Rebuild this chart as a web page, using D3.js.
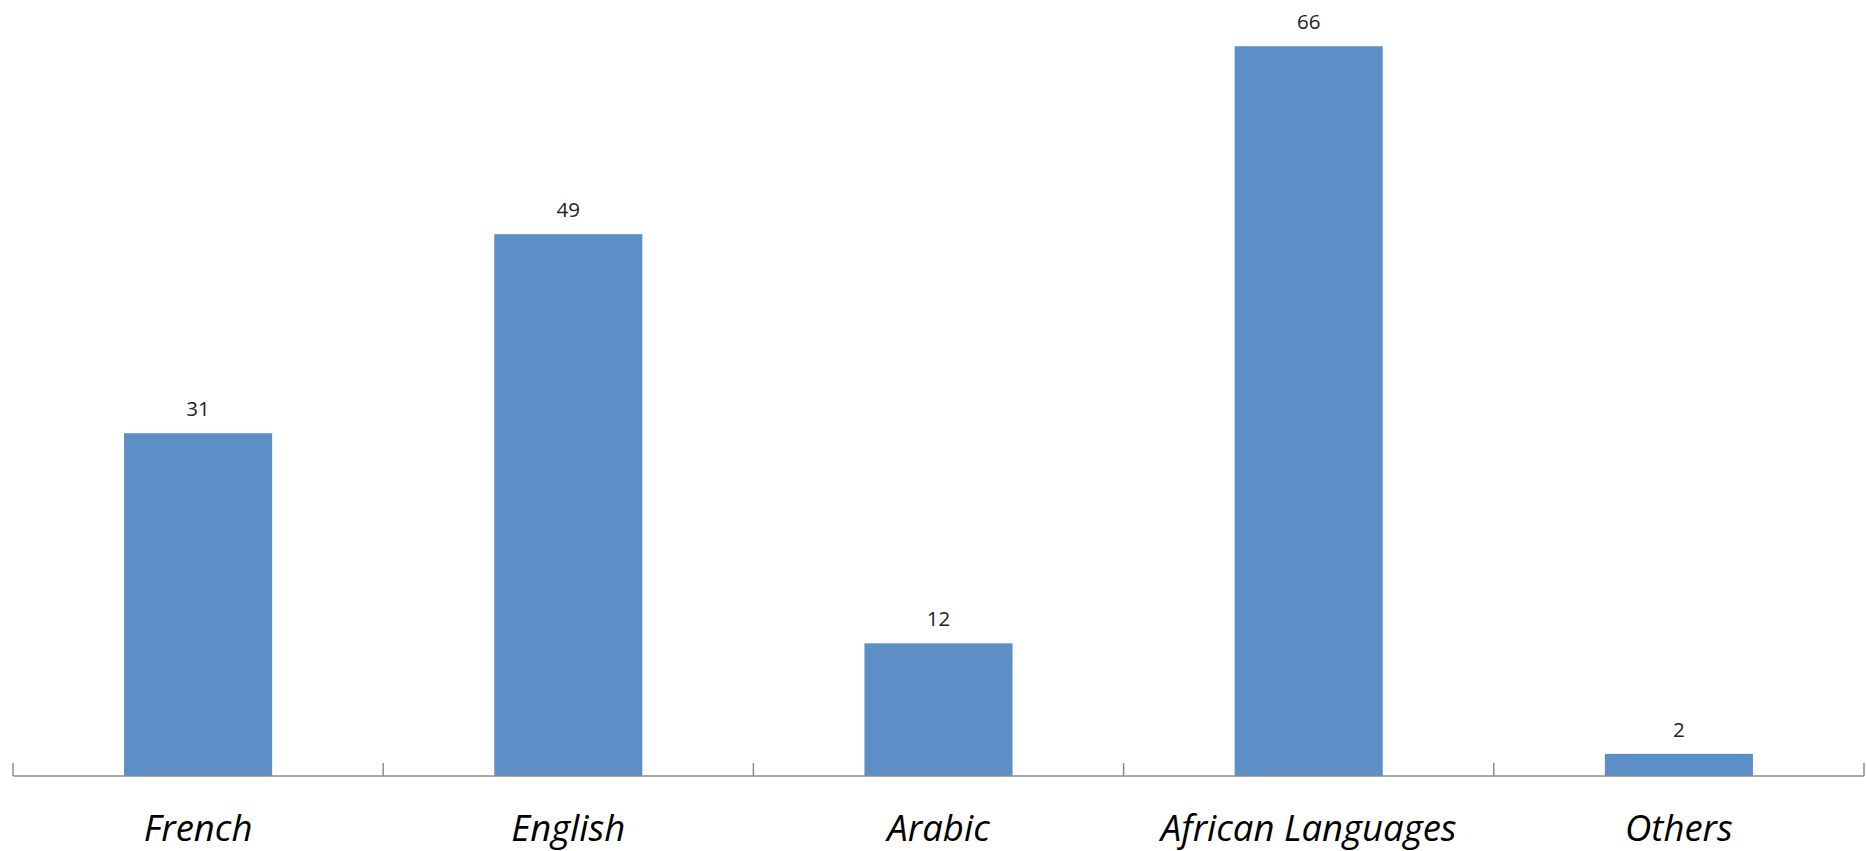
<!DOCTYPE html>
<html><head><meta charset="utf-8">
<script src="https://cdn.jsdelivr.net/npm/d3@7"></script>
<style>html,body{margin:0;padding:0;background:#fff;}</style>
</head><body>
<svg id="chart" width="1866" height="851"></svg>
<script>
const categories = ["French", "English", "Arabic", "African Languages", "Others"];
const values = [31, 49, 12, 66, 2];

const svg = d3.select("#chart");
const x = d3.scaleBand().domain(categories).range([13, 1864]).paddingInner(0.6).paddingOuter(0.3);
const y = d3.scaleLinear().domain([0, 70]).range([776, 2]);

const data = categories.map((c, i) => ({c, v: values[i]}));

svg.selectAll("rect.bar").data(data).enter().append("rect")
  .attr("class", "bar")
  .attr("x", d => x(d.c))
  .attr("width", x.bandwidth())
  .attr("y", d => y(d.v))
  .attr("height", d => y(0) - y(d.v))
  .attr("fill", "#5B8FC5");

svg.selectAll("text.val").data(data).enter().append("text")
  .attr("class", "val")
  .attr("x", d => x(d.c) + x.bandwidth() / 2)
  .attr("y", d => y(d.v) - 17)
  .attr("text-anchor", "middle")
  .attr("font-family", "'Open Sans', 'Liberation Sans', sans-serif")
  .attr("font-size", 20.5)
  .attr("fill", "#222")
  .text(d => d.v);

// axis line
const step = x.step();
const x0 = 13, x1 = 1864;
svg.append("line").attr("x1", x0).attr("x2", x1).attr("y1", y(0)).attr("y2", y(0))
  .attr("stroke", "#8c8c8c").attr("stroke-width", 1.5);
const tickPos = d3.range(categories.length + 1).map(i => x0 + i * step);
svg.selectAll("line.tick").data(tickPos).enter().append("line")
  .attr("class", "tick")
  .attr("x1", d => d).attr("x2", d => d)
  .attr("y1", y(0) - 13).attr("y2", y(0))
  .attr("stroke", "#8c8c8c").attr("stroke-width", 1.5);

svg.selectAll("text.cat").data(categories).enter().append("text")
  .attr("class", "cat")
  .attr("x", d => x(d) + x.bandwidth() / 2)
  .attr("y", 841)
  .attr("text-anchor", "middle")
  .attr("font-family", "'Open Sans', 'Liberation Sans', sans-serif")
  .attr("font-style", "italic")
  .attr("font-size", 36.5)
  .attr("fill", "#000")
  .text(d => d);
</script>
</body></html>
